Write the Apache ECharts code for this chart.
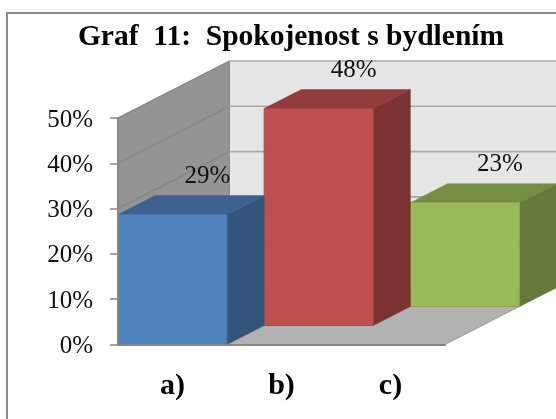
<!DOCTYPE html>
<html><head><meta charset="utf-8">
<style>html,body{margin:0;padding:0;background:#fff}#c{width:556px;height:419px}</style>
<script src="https://cdn.jsdelivr.net/npm/echarts@6/dist/echarts.min.js"></script>
</head><body><div id="c"></div>
<script>
const titleText = 'Graf  11:  Spokojenost s bydlením';
const categories = ['a)', 'b)', 'c)'];
const values = [28.7, 47.9, 22.9];
const labels = ['29%', '48%', '23%'];
const yTicks = [0, 10, 20, 30, 40, 50];

const FONT = '"Liberation Serif","Times New Roman",serif';
const DEPTH = [111.5, -57];
const palette = [
  {face:'#4f81bd', top:'#3d6290', side:'#335579', edge:'#4674ab'},
  {face:'#c0504d', top:'#913c3b', side:'#7b3331', edge:'#a94845'},
  {face:'#9bbb59', top:'#758e43', side:'#64793a', edge:'#8ba650'}
];
const poly = (pts, fill, z2, stroke) => ({
  type:'polygon', z2, shape:{points:pts},
  style:{fill, stroke: stroke || fill, lineWidth: stroke ? 1 : 0.5}
});
const move = (p, d, k) => [p[0] + d[0]*k, p[1] + d[1]*k];

function renderWalls(params, api) {
  const cs = params.coordSys;
  const x0 = cs.x, x1 = cs.x + cs.width;
  const yb = api.coord([0, 0])[1], yt = api.coord([0, 50])[1];
  const kids = [
    poly([[x0,yb],[x1,yb],move([x1,yb],DEPTH,1),move([x0,yb],DEPTH,1)], '#b2b2b2', 1, '#9a9a9a'),
    poly([move([x0,yt],DEPTH,1),[x1+DEPTH[0],yt+DEPTH[1]],[x1+DEPTH[0],yb+DEPTH[1]],move([x0,yb],DEPTH,1)], '#e6e6e6', 1),
    poly([[x0,yt],move([x0,yt],DEPTH,1),move([x0,yb],DEPTH,1),[x0,yb]], '#949494', 2, '#8a8a8a')
  ];
  yTicks.forEach(v => {
    const y = api.coord([0, v])[1];
    if (v > 0) {
      kids.push({type:'line', z2:3, shape:{x1:x0,y1:y,x2:x0+DEPTH[0],y2:y+DEPTH[1]}, style:{stroke:'#868686',lineWidth:1.2}});
      kids.push({type:'line', z2:3, shape:{x1:x0+DEPTH[0],y1:y+DEPTH[1],x2:x1+DEPTH[0],y2:y+DEPTH[1]}, style:{stroke:'#a8a8a8',lineWidth:1.6}});
    }
  });
  return {type:'group', children:kids};
}

function renderBar(params, api) {
  const i = params.dataIndex;
  const w = api.size([1, 0])[0];
  const step = i / 3, d = 1 / 3;
  const c = palette[i];
  const top = api.coord([i, api.value(1)]);
  const bot = api.coord([i, 0]);
  const ftl = move([top[0]-w/2, top[1]], DEPTH, step);
  const ftr = move([top[0]+w/2, top[1]], DEPTH, step);
  const fbr = move([bot[0]+w/2, bot[1]], DEPTH, step);
  const fbl = move([bot[0]-w/2, bot[1]], DEPTH, step);
  const base = 10 - i * 3;
  return {type:'group', children:[
    poly([ftr,move(ftr,DEPTH,d),move(fbr,DEPTH,d),fbr], c.side, base),
    poly([ftl,ftr,move(ftr,DEPTH,d),move(ftl,DEPTH,d)], c.top, base),
    poly([ftl,ftr,fbr,fbl], c.face, base+1, c.edge),
    {type:'text', z2:50, style:{
      text:labels[i], x:(ftl[0]+ftr[0])/2+35, y:ftl[1]-38,
      font:'25px '+FONT, fill:'#111', align:'center', verticalAlign:'middle'}}
  ]};
}

const chart = echarts.init(document.getElementById('c'), null, {renderer:'canvas'});
chart.setOption({
  animation:false,
  backgroundColor:'#fff',
  title:{text:titleText, left:286, top:17, textAlign:'center',
    textStyle:{fontFamily:FONT, fontWeight:'bold', fontSize:29.5, color:'#000'}},
  grid:{left:118, top:118, width:327, height:226.5, containLabel:false},
  xAxis:{type:'category', data:categories, z:5,
    axisLine:{lineStyle:{color:'#868686',width:2}}, axisTick:{show:false},
    axisLabel:{fontFamily:FONT, fontWeight:'bold', fontSize:30, color:'#000', margin:27}},
  yAxis:{type:'value', min:0, max:50, interval:10, z:5,
    splitLine:{show:false},
    axisLine:{show:true,lineStyle:{color:'#868686',width:2}},
    axisTick:{show:true,length:8,lineStyle:{color:'#868686',width:1.5}},
    axisLabel:{formatter:'{value}%', fontFamily:FONT, fontSize:25, color:'#111', margin:25, verticalAlign:'top', lineHeight:4}},
  graphic:[{type:'rect', z:-1, shape:{x:7,y:13,width:600,height:460},
    style:{fill:'#fff',stroke:'#8c8c8c',lineWidth:2}}],
  series:[
    {type:'custom', z:1, clip:false, renderItem:renderWalls, data:[[0,0]], encode:{x:0,y:1}, silent:true},
    {type:'custom', z:2, clip:false, renderItem:renderBar,
      data:values.map((v,i)=>[i,v]), encode:{x:0,y:1}, silent:true}
  ]
});
</script></body></html>
